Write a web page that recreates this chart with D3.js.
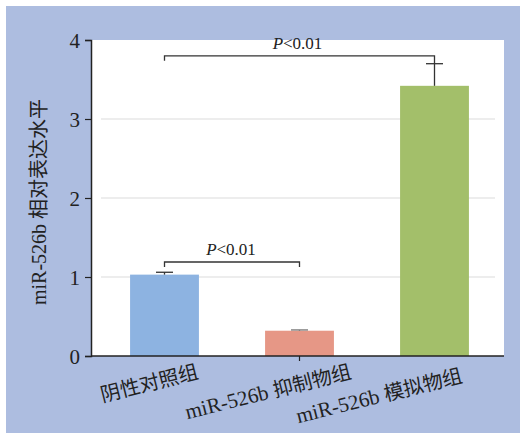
<!DOCTYPE html>
<html>
<head>
<meta charset="utf-8">
<script src="https://cdn.jsdelivr.net/npm/d3@7"></script>
<style>
  body { margin: 0; background: #fff; }
  svg { display: block; }
</style>
</head>
<body>
<div id="chart"></div>
<script>
// chart data
const categories = ['阴性对照组', 'miR-526b 抑制物组', 'miR-526b 模拟物组'];
const values = [1.03, 0.32, 3.42];
const errors = [0.03, 0.01, 0.28];
const barColors = ['#8db3e1', '#e69786', '#a3bf6a'];
const yTicks = [0, 1, 2, 3, 4];
const comparisons = [
  { from: 0, to: 2, level: 3.80, label: '<0.01' },
  { from: 0, to: 1, level: 1.19, label: '<0.01' }
];

(function() {
  const W = 520, H = 436;
  const plot = { left: 91, right: 504, top: 40, bottom: 356 };
  const serif = '"Liberation Serif", "Times New Roman", serif';
  const cjk = '"Noto Sans CJK SC", "Liberation Serif", serif';

  const svg = d3.select('#chart')
    .append('svg')
    .attr('width', W)
    .attr('height', H);

  // blue frame and white plot area
  svg.append('rect')
    .attr('x', 6).attr('y', 6)
    .attr('width', W - 6).attr('height', H - 9)
    .attr('fill', '#adbde0');

  svg.append('rect')
    .attr('x', plot.left).attr('y', plot.top)
    .attr('width', plot.right - plot.left)
    .attr('height', plot.bottom - plot.top)
    .attr('fill', '#fff');

  const x = d3.scaleBand()
    .domain(categories)
    .range([97, 502])
    .paddingInner(0.49)
    .paddingOuter(0.245);

  const y = d3.scaleLinear()
    .domain([0, 4])
    .range([plot.bottom, plot.top]);

  // gridlines
  svg.append('g')
    .selectAll('line')
    .data(yTicks.filter(d => d > 0 && d < 4))
    .enter()
    .append('line')
    .attr('x1', 101).attr('x2', 495)
    .attr('y1', d => y(d)).attr('y2', d => y(d))
    .attr('stroke', '#dcdcdc')
    .attr('stroke-width', 1.2);

  // bars
  svg.selectAll('.bar')
    .data(values)
    .enter()
    .append('rect')
    .attr('class', 'bar')
    .attr('x', (d, i) => x(categories[i]))
    .attr('y', d => y(d))
    .attr('width', x.bandwidth())
    .attr('height', d => y(0) - y(d))
    .attr('fill', (d, i) => barColors[i]);

  // error bars (upper only)
  const err = svg.append('g')
    .selectAll('g')
    .data(values)
    .enter()
    .append('g')
    .attr('stroke', (d, i) => i === 1 ? '#777' : '#333')
    .attr('stroke-width', 1.3);

  err.append('line')
    .attr('x1', (d, i) => x(categories[i]) + x.bandwidth() / 2)
    .attr('x2', (d, i) => x(categories[i]) + x.bandwidth() / 2)
    .attr('y1', d => y(d))
    .attr('y2', (d, i) => y(d + errors[i]));

  err.append('line')
    .attr('x1', (d, i) => x(categories[i]) + x.bandwidth() / 2 - 8.5)
    .attr('x2', (d, i) => x(categories[i]) + x.bandwidth() / 2 + 8.5)
    .attr('y1', (d, i) => y(d + errors[i]))
    .attr('y2', (d, i) => y(d + errors[i]));

  // significance brackets
  const cx = i => x(categories[i]) + x.bandwidth() / 2;
  comparisons.forEach(c => {
    const yl = y(c.level);
    const leg = 5;
    const rightEnd = c.to === 2 ? y(values[c.to] + errors[c.to]) : yl + leg;
    svg.append('path')
      .attr('d', `M${cx(c.from)},${yl + leg}V${yl}H${cx(c.to)}V${rightEnd}`)
      .attr('fill', 'none')
      .attr('stroke', '#333')
      .attr('stroke-width', 1.3);

    const t = svg.append('text')
      .attr('x', (cx(c.from) + cx(c.to)) / 2 + (c.to === 1 ? -1 : -2))
      .attr('y', yl - 7)
      .attr('text-anchor', 'middle')
      .style('font-family', serif)
      .style('font-size', '17px')
      .style('fill', '#222');
    t.append('tspan').style('font-style', 'italic').text('P');
    t.append('tspan').text(c.label);
  });

  // y axis
  const yAxis = svg.append('g')
    .attr('transform', `translate(${plot.left},0)`)
    .call(d3.axisLeft(y).tickValues(yTicks).tickSize(6).tickPadding(5).tickFormat(d3.format('d')));
  yAxis.select('.domain').attr('stroke', '#222').attr('stroke-width', 1.5);
  yAxis.selectAll('.tick line').attr('stroke', '#222').attr('stroke-width', 1.2);
  yAxis.selectAll('.tick text')
    .attr('dy', '0.35em')
    .style('font-family', serif)
    .style('font-size', '21px')
    .style('fill', '#222');

  // x axis line with a single tick under the middle bar
  const xAxis = svg.append('g')
    .attr('transform', `translate(0,${plot.bottom})`)
    .call(d3.axisBottom(x).tickValues([categories[1]]).tickSize(5).tickSizeOuter(0).tickFormat(''));
  xAxis.select('.domain')
    .attr('d', `M${plot.left},0H${plot.right}`)
    .attr('stroke', '#222').attr('stroke-width', 1.5);
  xAxis.selectAll('.tick line').attr('stroke', '#222').attr('stroke-width', 1.2);

  // rotated category labels
  svg.selectAll('.cat-label')
    .data(categories)
    .enter()
    .append('text')
    .attr('class', 'cat-label')
    .attr('transform', (d, i) => `translate(${cx(i) + (i === 1 ? 53 : (i === 0 ? 35 : 29))},${i === 2 ? 382 : 378}) rotate(-14)`)
    .attr('text-anchor', 'end')
    .style('font-size', '20px')
    .style('fill', '#222')
    .each(function(d) {
      const parts = d.split(' ');
      const el = d3.select(this);
      if (parts.length > 1) {
        el.append('tspan').style('font-family', serif).style('font-size', '21px').text(parts[0] + ' ');
        el.append('tspan').style('font-family', cjk).text(parts[1]);
      } else {
        el.append('tspan').style('font-family', cjk).text(d);
      }
    });

  // y axis title
  const yt = svg.append('text')
    .attr('transform', `translate(46,${(plot.top + plot.bottom) / 2 + 4}) rotate(-90)`)
    .attr('text-anchor', 'middle')
    .style('font-size', '20px')
    .style('fill', '#222');
  yt.append('tspan').style('font-family', serif).text('miR-526b ');
  yt.append('tspan').style('font-family', cjk).text('相对表达水平');
})();
</script>
</body>
</html>
